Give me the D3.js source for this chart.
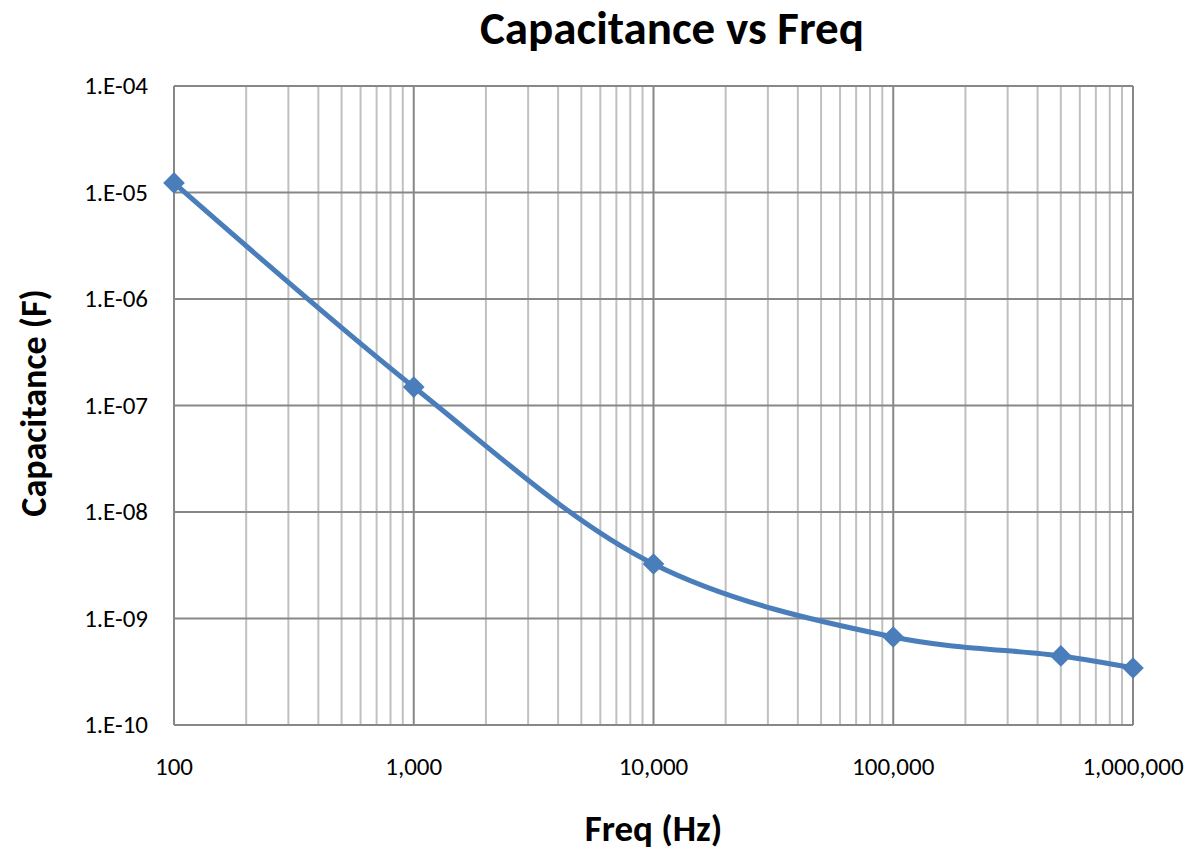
<!DOCTYPE html>
<html>
<head>
<meta charset="utf-8">
<script src="https://cdn.jsdelivr.net/npm/d3@7"></script>
<style>
  body { margin: 0; background: #fff; }
  svg text { font-family: Carlito, Lato, "Liberation Sans", sans-serif; fill: #000; }
</style>
</head>
<body>
<div id="chart"></div>
<script>
var freqs = [100, 1000, 10000, 100000, 500000, 1000000];
var capacitance = [1.23e-5, 1.49e-7, 3.25e-9, 6.7e-10, 4.45e-10, 3.43e-10];
var yTicks = [1e-4, 1e-5, 1e-6, 1e-7, 1e-8, 1e-9, 1e-10];
var xTicks = [100, 1000, 10000, 100000, 1000000];

var W = 1197, H = 850;
var margin = {top: 86, right: 64, bottom: 125, left: 174};
var width = W - margin.left - margin.right,
    height = H - margin.top - margin.bottom;

var svg = d3.select("#chart").append("svg")
    .attr("width", W)
    .attr("height", H);

var g = svg.append("g")
    .attr("transform", "translate(" + margin.left + "," + margin.top + ")");

var x = d3.scaleLog().domain([100, 1000000]).range([0, width]);
var y = d3.scaleLog().domain([1e-10, 1e-4]).range([height, 0]);

// minor vertical gridlines
var minor = [];
for (var d = 100; d < 1000000; d *= 10) {
    for (var k = 2; k <= 9; k++) minor.push(d * k);
}
g.selectAll(".minor").data(minor).enter().append("line")
    .attr("x1", function(d) { return x(d); })
    .attr("x2", function(d) { return x(d); })
    .attr("y1", 0).attr("y2", height)
    .attr("stroke", "#c0c0c0").attr("stroke-width", 2);

// major gridlines
g.selectAll(".vmajor").data(xTicks).enter().append("line")
    .attr("x1", function(d) { return x(d); })
    .attr("x2", function(d) { return x(d); })
    .attr("y1", 0).attr("y2", height)
    .attr("stroke", "#878787").attr("stroke-width", 2);

g.selectAll(".hmajor").data(yTicks).enter().append("line")
    .attr("x1", 0).attr("x2", width)
    .attr("y1", function(d) { return y(d); })
    .attr("y2", function(d) { return y(d); })
    .attr("stroke", "#878787").attr("stroke-width", 2);

// tick labels
var fmtX = d3.format(",");
g.selectAll(".xlab").data(xTicks).enter().append("text")
    .attr("x", function(d) { return x(d); })
    .attr("y", height + 50)
    .attr("text-anchor", "middle")
    .style("font-size", "25px")
    .text(function(d) { return fmtX(d); });

g.selectAll(".ylab").data(yTicks).enter().append("text")
    .attr("x", -26)
    .attr("y", function(d) { return y(d) + 8; })
    .attr("text-anchor", "end")
    .style("font-size", "25px")
    .text(function(d) {
        var e = Math.round(Math.log10(d));
        return "1.E-" + (e < 0 ? (-e < 10 ? "0" : "") + (-e) : e);
    });

var pts = freqs.map(function(f, i) { return [f, capacitance[i]]; });

var line = d3.line()
    .x(function(d) { return x(d[0]); })
    .y(function(d) { return y(d[1]); })
    .curve(d3.curveCatmullRom.alpha(0.5));

g.append("path")
    .datum(pts)
    .attr("fill", "none")
    .attr("stroke", "#4a7ebb")
    .attr("stroke-width", 5)
    .attr("d", line);

var diamond = d3.symbol().type(d3.symbolDiamond2).size(300);
g.selectAll(".pt").data(pts).enter().append("path")
    .attr("transform", function(d) { return "translate(" + x(d[0]) + "," + y(d[1]) + ")"; })
    .attr("d", diamond)
    .attr("fill", "#4a7ebb");

// titles
svg.append("text")
    .attr("x", 672)
    .attr("y", 44)
    .attr("text-anchor", "middle")
    .style("font-size", "47px")
    .style("font-weight", "bold")
    .text("Capacitance vs Freq");

svg.append("text")
    .attr("x", margin.left + width / 2)
    .attr("y", 841)
    .attr("text-anchor", "middle")
    .style("font-size", "37px")
    .style("font-weight", "bold")
    .text("Freq (Hz)");

svg.append("text")
    .attr("transform", "translate(46," + 403 + ") rotate(-90)")
    .attr("text-anchor", "middle")
    .style("font-size", "36px")
    .style("font-weight", "bold")
    .text("Capacitance (F)");
</script>
</body>
</html>
